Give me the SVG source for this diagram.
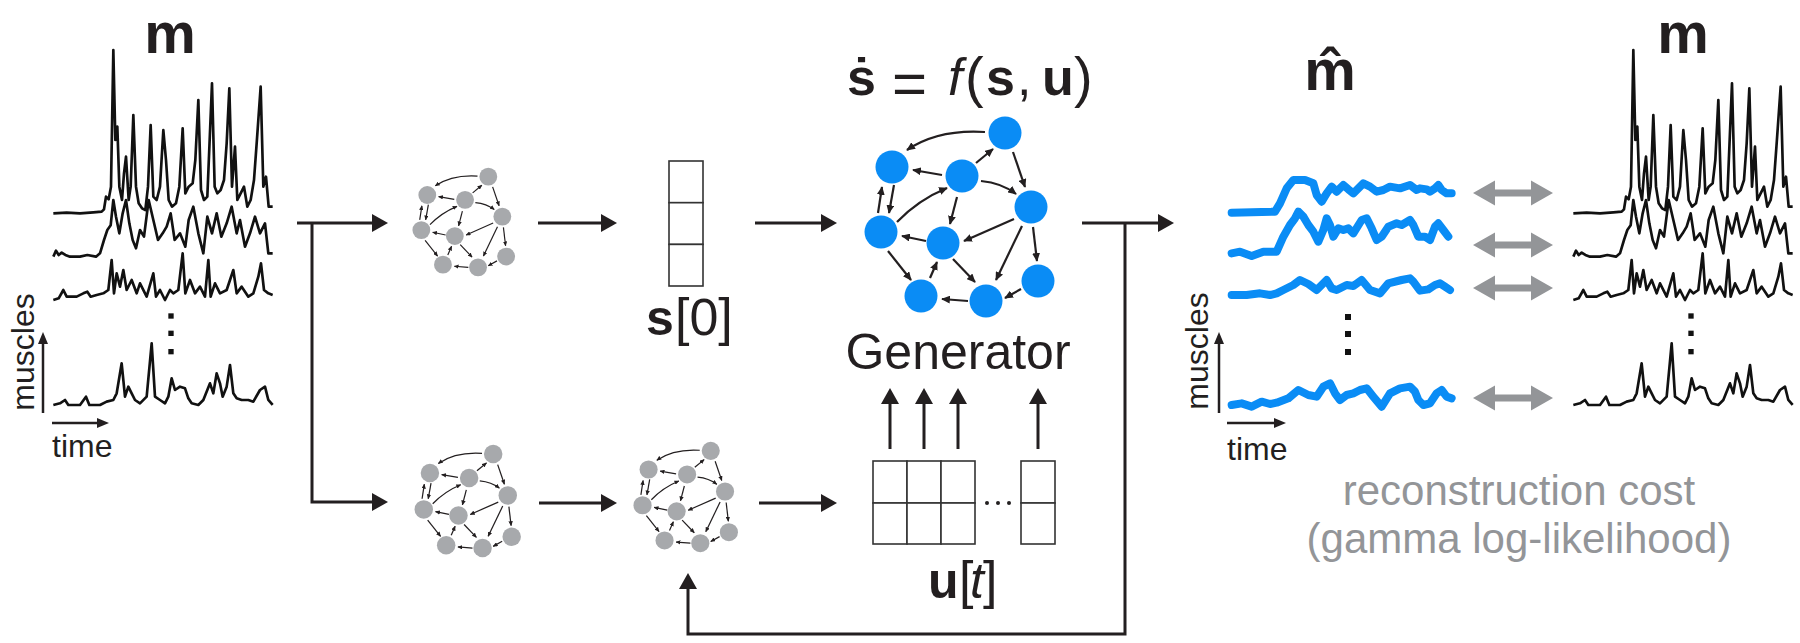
<svg xmlns="http://www.w3.org/2000/svg" xmlns:xlink="http://www.w3.org/1999/xlink" width="1800" height="643" viewBox="0 0 1800 643">
<style>
text{font-family:"Liberation Sans",Arial,sans-serif;fill:#231f20}
.conn{fill:none;stroke:#231f20;stroke-width:3;marker-end:url(#ba)}
.axis{fill:none;stroke:#231f20;stroke-width:2.5;marker-end:url(#sa)}
.emg{fill:none;stroke:#111;stroke-width:8;stroke-linejoin:round}
.rec{fill:none;stroke:#0a8cf5;stroke-width:24;stroke-linejoin:round;stroke-linecap:round}
.ne{fill:none;stroke:#231f20;stroke-width:2.2;marker-end:url(#na)}
.grid{fill:#fff;stroke:#333;stroke-width:1.6}
.lbl{font-size:32px}
.gray{fill:#939598}
.big{font-weight:bold;font-size:58px}
</style>
<defs>
<marker id="ba" markerUnits="userSpaceOnUse" viewBox="0 0 16 18" refX="8" refY="9" markerWidth="16" markerHeight="18" orient="auto"><path d="M0,0 L16,9 L0,18 Z" fill="#231f20"/></marker>
<marker id="sa" markerUnits="userSpaceOnUse" viewBox="0 0 12 10" refX="5" refY="5" markerWidth="12" markerHeight="10" orient="auto"><path d="M0,0 L12,5 L0,10 Z" fill="#231f20"/></marker>
<marker id="na" viewBox="0 0 10 9" refX="9" refY="4.5" markerWidth="4" markerHeight="3.6" orient="auto"><path d="M0,0 L10,4.5 L0,9 Z" fill="#231f20"/></marker>
<g id="net">
<path class="ne" d="M25,-85 Q-22,-88 -53,-67"/>
<path class="ne" d="M16,-54 L33,-68"/>
<path class="ne" d="M-18,-42 L-47,-47"/>
<path class="ne" d="M53,-65 L65,-30"/>
<path class="ne" d="M21,-36 Q42,-34 56,-23"/>
<path class="ne" d="M-82,-4 L-78,-30"/>
<path class="ne" d="M-66,-32 L-71,-4"/>
<path class="ne" d="M-63,5 Q-42,-17 -13,-29"/>
<path class="ne" d="M-3,-20 L-10,7"/>
<path class="ne" d="M54,2 L4,24"/>
<path class="ne" d="M-34,24 L-58,19"/>
<path class="ne" d="M73,10 L77,44"/>
<path class="ne" d="M62,9 L36,63"/>
<path class="ne" d="M-72,34 L-49,63"/>
<path class="ne" d="M-30,61 L-23,45"/>
<path class="ne" d="M-7,42 L15,65"/>
<path class="ne" d="M61,72 L45,81"/>
<path class="ne" d="M8,84 L-18,82"/>
<circle cx="45" cy="-84" r="16.5"/>
<circle cx="-68" cy="-50" r="16.5"/>
<circle cx="2" cy="-41" r="16.5"/>
<circle cx="71" cy="-10" r="16.5"/>
<circle cx="-79" cy="15" r="16.5"/>
<circle cx="-17" cy="26" r="16.5"/>
<circle cx="78" cy="64" r="16.5"/>
<circle cx="26" cy="84" r="16.5"/>
<circle cx="-39" cy="79" r="16.5"/>
</g>
<g id="emg" transform="scale(0.33333)">
<polyline class="emg" points="160,640 200,638 240,640 280,637 305,635 312,628 318,590 326,598 333,560 340,150 346,420 352,380 358,560 366,600 372,520 378,470 386,600 392,560 400,345 408,560 416,610 426,625 436,630 444,560 452,375 460,590 470,600 480,560 490,390 498,480 506,600 516,620 528,610 538,560 548,385 556,580 566,560 578,550 586,480 595,300 603,570 612,600 622,590 636,250 644,560 652,580 662,570 672,540 680,430 688,265 696,560 705,440 712,600 722,580 732,560 742,620 752,600 762,540 770,430 782,260 790,560 798,530 806,620 818,620"/>
<polyline class="emg" points="160,770 168,752 176,765 185,758 196,765 210,770 240,770 262,765 288,770 300,760 312,720 322,690 332,676 340,600 348,650 358,700 368,640 378,600 388,670 398,720 408,745 420,690 432,710 446,600 460,660 474,720 488,700 500,680 512,640 524,720 540,700 556,740 566,660 580,620 595,700 610,760 622,650 636,700 650,640 664,710 680,670 695,620 710,700 720,660 735,740 750,700 765,650 780,700 795,670 805,760 818,760"/>
<polyline class="emg" points="160,900 176,895 190,870 200,890 230,890 250,880 262,875 272,890 290,885 310,880 325,870 335,780 342,880 350,820 360,860 370,810 380,870 395,840 410,880 420,850 440,890 460,820 468,890 480,870 495,900 510,870 520,880 535,870 548,760 556,880 570,840 585,880 600,860 615,890 625,780 632,890 645,850 660,880 680,870 700,810 710,880 725,860 745,890 760,880 775,830 783,790 792,870 805,880 818,885"/>
<polyline class="emg" points="160,1215 180,1210 195,1200 205,1215 240,1215 258,1190 268,1215 300,1215 320,1205 340,1200 350,1180 365,1090 375,1190 385,1160 395,1180 405,1200 420,1210 440,1190 455,1030 465,1190 480,1200 495,1210 505,1190 515,1135 525,1170 540,1160 555,1165 565,1195 575,1210 595,1215 610,1200 630,1150 640,1180 650,1120 660,1150 668,1190 680,1160 690,1095 700,1180 710,1195 725,1200 745,1200 760,1205 780,1170 795,1160 805,1200 818,1215"/>
<rect x="505" y="940" width="16" height="16" fill="#111"/>
<rect x="505" y="992" width="16" height="16" fill="#111"/>
<rect x="505" y="1047" width="16" height="16" fill="#111"/>
</g>
<path id="darr" d="M0,0 L22,-12.5 L22,-3.5 L58,-3.5 L58,-12.5 L80,0 L58,12.5 L58,3.5 L22,3.5 L22,12.5 Z" fill="#939598"/>
</defs>

<g id="emg-input">
<text class="big" text-anchor="middle" x="170" y="53">m</text>
<use href="#emg"/>
<path class="axis" d="M43,413 V339"/>
<path class="axis" d="M52,423 H102"/>
<text class="lbl" text-anchor="middle" transform="translate(34,352) rotate(-90)">muscles</text>
<text class="lbl" x="52" y="457">time</text>
</g>

<g id="encoder-initial">
<use href="#net" transform="translate(464,222) scale(0.54)" fill="#a7a9ac"/>
</g>

<g id="s0">
<rect class="grid" x="669" y="161" width="34" height="41.7"/>
<rect class="grid" x="669" y="202.7" width="34" height="41.7"/>
<rect class="grid" x="669" y="244.4" width="34" height="41.6"/>
<text font-size="50" y="335"><tspan x="646" font-weight="bold">s</tspan><tspan x="675" font-size="52">[0]</tspan></text>
</g>

<g id="generator">
<text font-size="52" y="95"><tspan x="847" font-weight="bold">ṡ</tspan><tspan x="892" y="104" font-size="60">=</tspan><tspan x="948" y="95" font-style="italic">f</tspan><tspan x="965" y="96" font-size="56">(</tspan><tspan x="986" y="95" font-weight="bold">s</tspan><tspan x="1017">,</tspan><tspan x="1042" font-weight="bold">u</tspan><tspan x="1074" y="96" font-size="56">)</tspan></text>
<use href="#net" transform="translate(960,217)" fill="#0a8cf5"/>
<text font-size="50" x="958" y="369" text-anchor="middle">Generator</text>
</g>

<g id="encoder-controller-1">
<use href="#net" transform="translate(468,501) scale(0.56)" fill="#a7a9ac"/>
</g>

<g id="encoder-controller-2">
<use href="#net" transform="translate(686,497) scale(0.55)" fill="#a7a9ac"/>
</g>

<g id="u-t">
<rect class="grid" x="873" y="461" width="34" height="42"/>
<rect class="grid" x="907" y="461" width="34" height="42"/>
<rect class="grid" x="941" y="461" width="34" height="42"/>
<rect class="grid" x="873" y="503" width="34" height="41"/>
<rect class="grid" x="907" y="503" width="34" height="41"/>
<rect class="grid" x="941" y="503" width="34" height="41"/>
<rect class="grid" x="1021" y="461" width="34" height="42"/>
<rect class="grid" x="1021" y="503" width="34" height="41"/>
<circle cx="987" cy="503" r="2" fill="#231f20"/>
<circle cx="998" cy="503" r="2" fill="#231f20"/>
<circle cx="1009" cy="503" r="2" fill="#231f20"/>
<text font-size="50" y="598"><tspan x="928" font-weight="bold">u</tspan><tspan x="959" font-size="52">[</tspan><tspan x="970" font-style="italic">t</tspan><tspan x="983" font-size="52">]</tspan></text>
</g>

<g id="reconstruction">
<text class="big" text-anchor="middle" x="1330" y="90">m̂</text>
<g transform="translate(1180,130) scale(0.33333)">
<polyline class="rec" points="155,248 285,245 300,220 320,175 340,150 375,150 400,160 410,195 425,215 440,190 455,170 470,185 490,165 505,178 520,190 550,160 570,170 590,185 610,180 630,170 660,175 690,165 710,180 720,175 740,178 750,185 765,175 775,165 785,180 800,190 815,190"/>
<polyline class="rec" points="155,370 180,365 215,378 250,365 290,365 310,320 330,285 345,265 355,245 370,260 385,285 400,305 415,335 430,300 440,265 450,285 460,320 475,295 490,300 505,295 520,310 545,270 560,265 575,295 590,330 605,320 625,290 650,280 665,285 690,270 700,285 715,320 735,320 750,330 765,290 775,280 790,300 805,320"/>
<polyline class="rec" points="155,495 200,495 240,490 270,495 290,490 310,480 340,465 360,450 385,462 410,480 440,450 455,475 470,480 500,465 520,468 545,450 570,480 600,490 625,460 665,450 690,445 700,455 720,482 745,478 765,465 780,460 795,470 810,480"/>
<polyline class="rec" points="155,825 185,820 215,830 245,815 270,822 290,818 325,805 355,780 385,795 410,800 430,770 450,760 465,790 480,810 500,795 520,790 540,780 560,775 580,800 605,830 630,790 660,775 690,770 705,785 715,810 730,825 750,820 770,790 785,780 800,800 815,805"/>
</g>
<rect x="1345" y="314" width="6" height="6" fill="#111"/>
<rect x="1345" y="331" width="6" height="6" fill="#111"/>
<rect x="1345" y="349" width="6" height="6" fill="#111"/>
<path class="axis" d="M1219,413 V339"/>
<path class="axis" d="M1227,423 H1279"/>
<text class="lbl" text-anchor="middle" transform="translate(1208,351) rotate(-90)">muscles</text>
<text class="lbl" x="1227" y="460">time</text>
</g>

<g id="comparison">
<use href="#darr" transform="translate(1473,193)"/>
<use href="#darr" transform="translate(1473,245)"/>
<use href="#darr" transform="translate(1473,288)"/>
<use href="#darr" transform="translate(1473,398)"/>
</g>

<g id="emg-target">
<text class="big" text-anchor="middle" x="1683" y="53">m</text>
<use href="#emg" transform="translate(1520,0)"/>
</g>

<g id="cost-label">
<text class="gray" font-size="42" text-anchor="middle" x="1519" y="505">reconstruction cost</text>
<text class="gray" font-size="42" text-anchor="middle" x="1519" y="553">(gamma log-likelihood)</text>
</g>

<g id="connectors">
<path class="conn" d="M297,223 H380"/>
<path class="conn" d="M312,223 V502 H380"/>
<path class="conn" d="M538,223 H609"/>
<path class="conn" d="M755,223 H829"/>
<path class="conn" d="M539,503 H609"/>
<path class="conn" d="M759,503 H829"/>
<path class="conn" d="M1082,223 H1166"/>
<path class="conn" d="M1125,223 V634 H688 V581"/>
<path class="conn" d="M890,449 V396"/>
<path class="conn" d="M924,449 V396"/>
<path class="conn" d="M958,449 V396"/>
<path class="conn" d="M1038,449 V396"/>
</g>
</svg>
